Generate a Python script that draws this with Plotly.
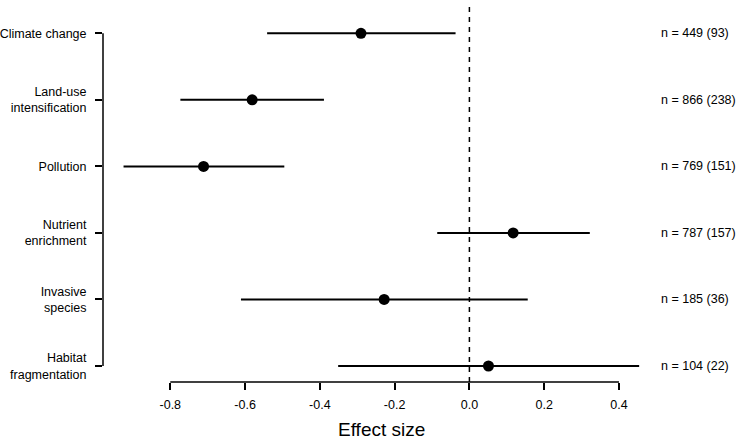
import plotly.graph_objects as go

categories = ["Climate change", "Land-use<br>intensification", "Pollution",
              "Nutrient<br>enrichment", "Invasive<br>species", "Habitat<br>fragmentation"]
effect = [-0.290, -0.581, -0.711, 0.117, -0.228, 0.051]
ci_low = [-0.541, -0.773, -0.925, -0.086, -0.611, -0.351]
ci_high = [-0.037, -0.389, -0.495, 0.322, 0.156, 0.454]
n_labels = ["n = 449 (93)", "n = 866 (238)", "n = 769 (151)",
            "n = 787 (157)", "n = 185 (36)", "n = 104 (22)"]
x_ticks = [-0.8, -0.6, -0.4, -0.2, 0.0, 0.2, 0.4]
x_ticktext = ["-0.8", "-0.6", "-0.4", "-0.2", "0.0", "0.2", "0.4"]

k = len(categories)
ypos = [k - i for i in range(k)]  # top category highest

FONT = "Liberation Sans, Arial, Helvetica, sans-serif"
W, H = 736, 440
L, R, T, B = 103, 90, 0, 58

fig = go.Figure()
fig.add_trace(go.Scatter(
    x=effect, y=ypos, mode="markers",
    marker=dict(color="black", size=11),
    error_x=dict(type="data", symmetric=False,
                 array=[h - e for h, e in zip(ci_high, effect)],
                 arrayminus=[e - l for e, l in zip(effect, ci_low)],
                 width=0, thickness=2, color="black"),
    showlegend=False, hoverinfo="skip"))

shapes = [
    # zero reference line
    dict(type="line", xref="x", yref="paper", x0=0, x1=0, y0=0, y1=0.995,
         line=dict(color="black", width=1.5, dash="5px,5px")),
    # x axis line spanning the ticks
    dict(type="line", xref="x", yref="paper", x0=x_ticks[0], x1=x_ticks[-1], y0=0, y1=0,
         line=dict(color="black", width=1.5)),
    # y axis line spanning the categories
    dict(type="line", xref="paper", yref="y", x0=0, x1=0, y0=min(ypos), y1=max(ypos),
         line=dict(color="black", width=1.5)),
]

pw = W - L - R
ph = H - B - T
annotations = []
for yv, lab in zip(ypos, n_labels):
    annotations.append(dict(xref="paper", yref="y", x=(658.5 - L) / pw, y=yv,
                            text=lab, showarrow=False, xanchor="left", yanchor="middle",
                            font=dict(family=FONT, size=12.5, color="black")))
annotations.append(dict(xref="paper", yref="paper", x=(381 - L) / pw, y=-(429 - (H - B)) / ph,
                        text="Effect size", showarrow=False, xanchor="center", yanchor="middle",
                        font=dict(family=FONT, size=19, color="black")))

zero_px = 469.4
scale = 373.9
x_lo = (L - zero_px) / scale
x_hi = (W - R - zero_px) / scale
y_lo = 1 - (H - B - 366) / 66.54
y_hi = 1 + (366 - T) / 66.54

fig.update_layout(
    width=W, height=H,
    margin=dict(l=L, r=R, t=T, b=B, pad=0),
    paper_bgcolor="white", plot_bgcolor="white",
    font=dict(family=FONT, size=12.5, color="black"),
    shapes=shapes, annotations=annotations,
    xaxis=dict(range=[x_lo, x_hi], tickvals=x_ticks, ticktext=x_ticktext,
               showgrid=False, zeroline=False, showline=False,
               ticks="outside", ticklen=7, tickwidth=1.5, tickcolor="black",
               ticklabelstandoff=4,
               tickfont=dict(family=FONT, size=12.5, color="black")),
    yaxis=dict(range=[y_lo, y_hi], tickvals=ypos, ticktext=categories,
               showgrid=False, zeroline=False, showline=False,
               ticks="outside", ticklen=7, tickwidth=1.5, tickcolor="black",
               ticklabelstandoff=6,
               tickfont=dict(family=FONT, size=12.5, color="black")),
)

fig.write_html("out.html", config={"displayModeBar": False},
               post_script="document.body.style.margin='0';document.body.style.padding='0';")
